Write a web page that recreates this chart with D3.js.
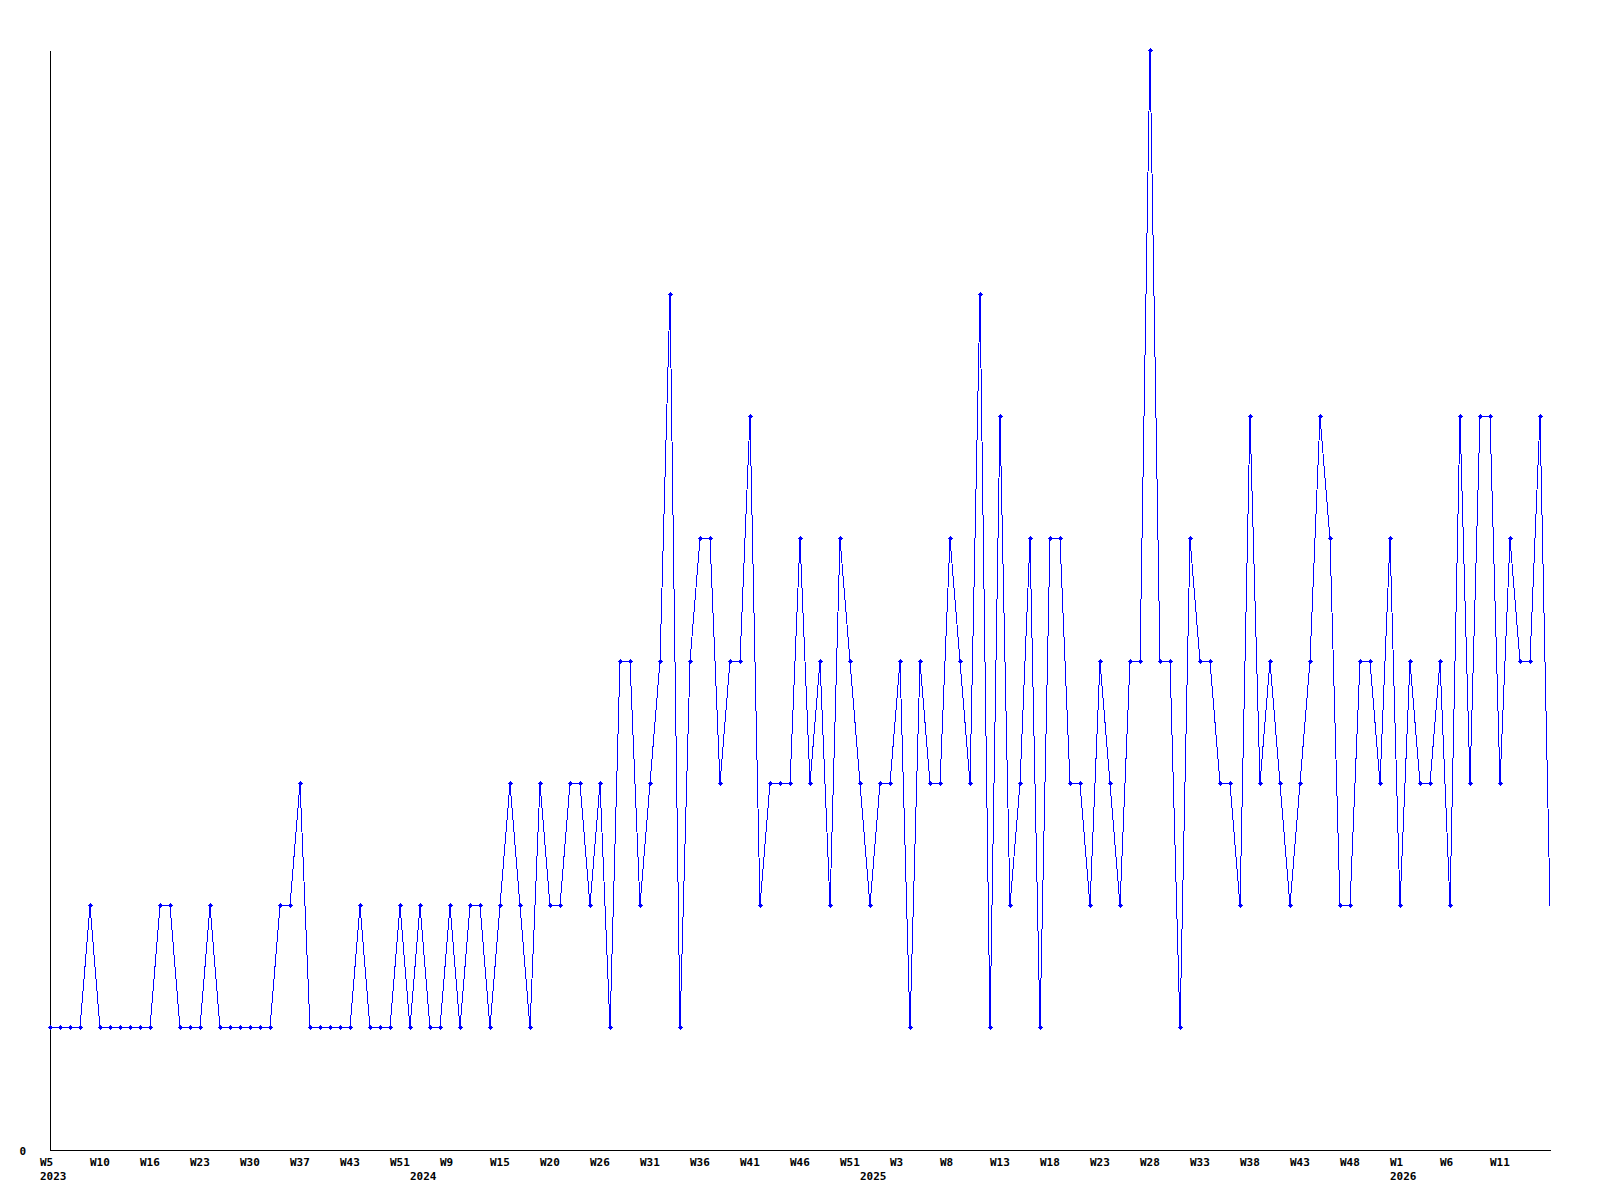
<!DOCTYPE html>
<html>
<head>
<meta charset="utf-8">
<script src="https://cdn.jsdelivr.net/npm/d3@7"></script>
<style>
  body { margin: 0; background: #fff; }
  text { font-family: "DejaVu Sans Mono", monospace; font-size: 11px; font-weight: bold; fill: #000; }
</style>
</head>
<body>
<svg id="chart" width="1600" height="1200"></svg>
<script>
// weekly counts, one per data point (the last point has no marker)
const values = [
  1, 1, 1, 1, 2, 1, 1, 1, 1, 1,
  1, 2, 2, 1, 1, 1, 2, 1, 1, 1,
  1, 1, 1, 2, 2, 3, 1, 1, 1, 1,
  1, 2, 1, 1, 1, 2, 1, 2, 1, 1,
  2, 1, 2, 2, 1, 2, 3, 2, 1, 3,
  2, 2, 3, 3, 2, 3, 1, 4, 4, 2,
  3, 4, 7, 1, 4, 5, 5, 3, 4, 4,
  6, 2, 3, 3, 3, 5, 3, 4, 2, 5,
  4, 3, 2, 3, 3, 4, 1, 4, 3, 3,
  5, 4, 3, 7, 1, 6, 2, 3, 5, 1,
  5, 5, 3, 3, 2, 4, 3, 2, 4, 4,
  9, 4, 4, 1, 5, 4, 4, 3, 3, 2,
  6, 3, 4, 3, 2, 3, 4, 6, 5, 2,
  2, 4, 4, 3, 5, 2, 4, 3, 3, 4,
  2, 6, 3, 6, 6, 3, 5, 4, 4, 6,
  2
];

// one week label every 5 points
const weekLabels = [
  'W5', 'W10', 'W16', 'W23', 'W30', 'W37', 'W43', 'W51', 'W9', 'W15',
  'W20', 'W26', 'W31', 'W36', 'W41', 'W46', 'W51', 'W3', 'W8', 'W13',
  'W18', 'W23', 'W28', 'W33', 'W38', 'W43', 'W48', 'W1', 'W6', 'W11'
];
const labelStep = 5;

// year labels, placed at the point where the year starts
const yearNames = ['2023', '2024', '2025', '2026'];
const yearStarts = [0, 37, 82, 135];

const yTicks = [0];
const yMax = 9;

const svg = d3.select('#chart');

const x = d3.scaleLinear().domain([0, values.length - 1]).range([50, 1550]);
const y = d3.scaleLinear().domain([0, yMax]).range([1150, 50]);

// axes
const axisX = d3.axisBottom(x).tickValues([]).tickSizeOuter(0);
svg.append('g')
  .attr('transform', `translate(0, ${y(0)})`)
  .call(axisX)
  .call((g) => g.select('.domain').attr('stroke', '#000').attr('shape-rendering', 'crispEdges'));

const axisY = d3.axisLeft(y).tickValues(yTicks).tickSize(0).tickPadding(24).tickFormat(d3.format('d'));
svg.append('g')
  .attr('transform', `translate(${x(0)}, 0)`)
  .call(axisY)
  .call((g) => g.select('.domain').attr('stroke', '#000').attr('shape-rendering', 'crispEdges'))
  .call((g) => g.selectAll('text')
    .attr('font-family', '"DejaVu Sans Mono", monospace')
    .attr('font-size', 11)
    .attr('font-weight', 'bold')
    .attr('dy', '0.4em'));

// week labels
svg.append('g')
  .selectAll('text')
  .data(weekLabels)
  .join('text')
  .attr('x', (d, i) => x(i * labelStep) - 10)
  .attr('y', 1166)
  .text((d) => d);

// year labels
svg.append('g')
  .selectAll('text')
  .data(yearNames)
  .join('text')
  .attr('x', (d, i) => x(yearStarts[i]) - 10)
  .attr('y', 1180)
  .text((d) => d);

// series line
const line = d3.line()
  .x((d, i) => x(i))
  .y((d) => y(d));

svg.append('path')
  .datum(values)
  .attr('d', line)
  .attr('fill', 'none')
  .attr('stroke', '#0000ff')
  .attr('stroke-width', 1)
  .attr('shape-rendering', 'crispEdges');

// small plus markers (none on the final point)
const marker = 'M-0.5,-2.5h1v1h1v1h1v1h-1v1h-1v1h-1v-1h-1v-1h-1v-1h1v-1h1z';
svg.append('g')
  .selectAll('path')
  .data(values.slice(0, -1))
  .join('path')
  .attr('transform', (d, i) => `translate(${x(i)}, ${y(d)})`)
  .attr('d', marker)
  .attr('fill', '#0000ff')
  .attr('shape-rendering', 'crispEdges');
</script>
</body>
</html>
